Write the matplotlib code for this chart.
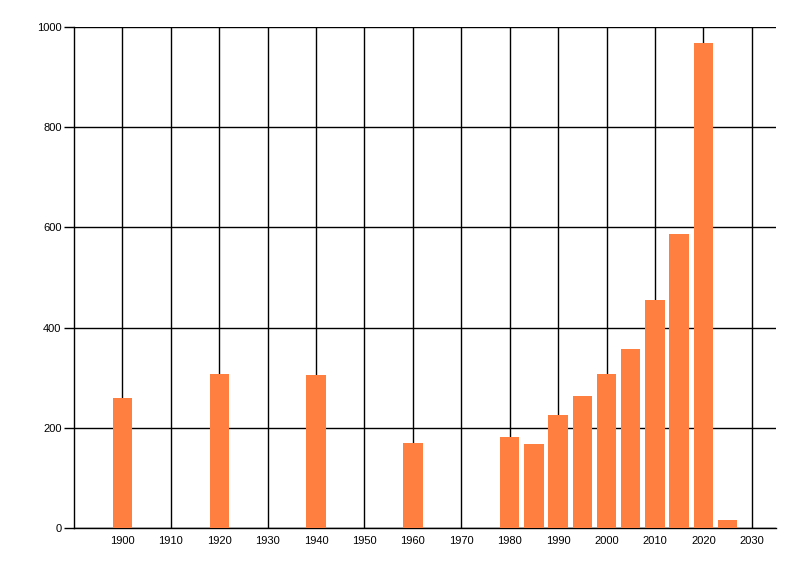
import matplotlib
matplotlib.use("Agg")
import matplotlib.pyplot as plt

years = [1900, 1920, 1940, 1960, 1980, 1985, 1990, 1995, 2000, 2005, 2010, 2015, 2020, 2025]
values = [259, 307, 305, 169, 181, 168, 225, 263, 307, 357, 455, 587, 968, 16]
xticks = list(range(1900, 2031, 10))
yticks = [0, 200, 400, 600, 800, 1000]

plt.rcParams['font.family'] = ['Liberation Sans', 'DejaVu Sans']
fig = plt.figure(figsize=(8, 5.76), dpi=100)
ax = fig.add_axes([74/800, 1 - 528/576, (776-74)/800, (528-27)/576])
ax.bar(years, values, width=4, color='#FF7F40', zorder=3)
ax.set_xlim(1890, 2035)
ax.set_ylim(0, 1000)
ax.set_xticks(xticks)
ax.set_yticks(yticks)
ax.grid(True, color='black', linewidth=1, zorder=0)
ax.set_axisbelow(True)
for s in ['top', 'right']:
    ax.spines[s].set_visible(False)
ax.spines['left'].set_linewidth(1)
ax.spines['bottom'].set_linewidth(1)
ax.tick_params(axis='x', length=0, pad=6, labelsize=8)
ax.tick_params(axis='y', length=7, width=1, pad=2, labelsize=8)
fig.savefig('out.png', dpi=100)
